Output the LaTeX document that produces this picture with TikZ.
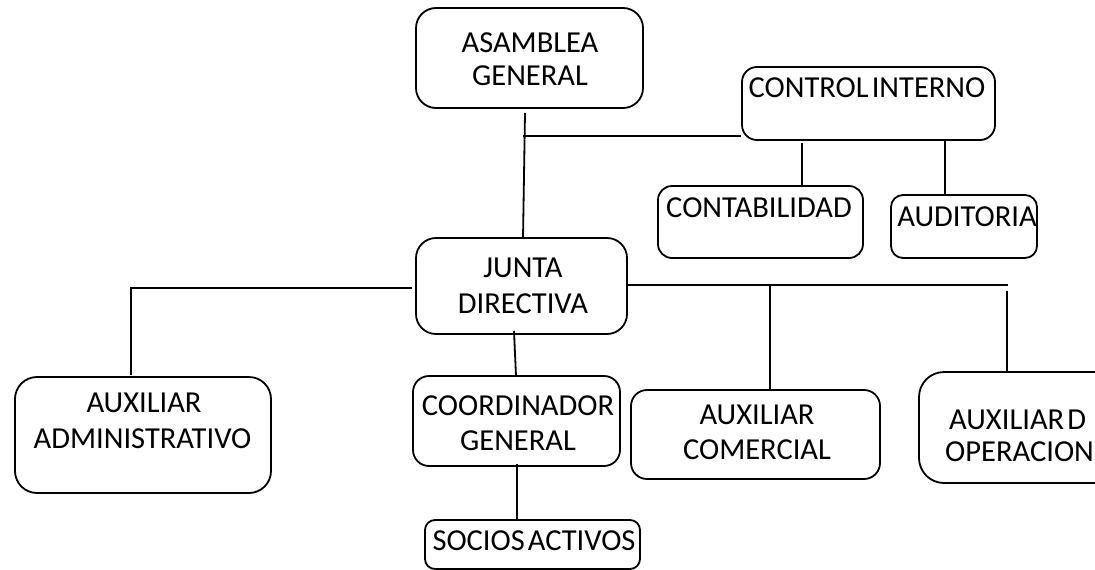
\documentclass[tikz,border=0pt]{standalone}
\usepackage{fontspec}
\setmainfont{Carlito}[WordSpace=0.45]
\begin{document}
\begin{tikzpicture}[x=1pt,y=-1pt,
  box/.style={draw=black,line width=1.8pt,rounded corners=#1,inner sep=0pt,fill=white},
  box/.default=16pt,
  txt/.style={anchor=base,inner sep=0pt,font=\fontsize{30.5}{36}\selectfont},
  txtl/.style={anchor=base west,inner sep=0pt,font=\fontsize{30.5}{36}\selectfont},
  conn/.style={draw=black,line width=1.8pt}]
\useasboundingbox (0,0) rectangle (1095,570);
\fill[white] (0,0) rectangle (1095,570);
\clip (0,0) rectangle (1095,570);
% boxes
\node[box=20pt,minimum width=227pt,minimum height=100pt] (asam) at (529.5,58) {};
\node[box=15pt,minimum width=253pt,minimum height=73pt] (ctrl) at (868.5,103.5) {};
\node[box=14pt,minimum width=205pt,minimum height=72pt] (cont) at (760.5,222) {};
\node[box=12pt,minimum width=146pt,minimum height=63pt] (audi) at (964,226.5) {};
\node[box=20pt,minimum width=211pt,minimum height=96pt] (junta) at (521.5,286) {};
\node[box=22pt,minimum width=256pt,minimum height=116pt] (admin) at (143,435) {};
\node[box=16pt,minimum width=207pt,minimum height=90pt] (coord) at (516.5,421) {};
\node[box=10pt,minimum width=215pt,minimum height=49pt] (socios) at (532.5,544.5) {};
\node[box=16pt,minimum width=249pt,minimum height=89pt] (comer) at (755.5,434.5) {};
\node[box=25pt,minimum width=220pt,minimum height=111pt] (oper) at (1029,427.5) {};
% texts
\node[txt] (tasam1) at (530,52) {ASAMBLEA};
\node[txt] (tasam2) at (530,85) {GENERAL};
\node[txt] (tctrl) at (867,97) {CONTROL INTERNO};
\node[txt] (tcont) at (759,217) {CONTABILIDAD};
\node[txt] (taudi) at (967,226) {AUDITORIA};
\node[txt] (tjun1) at (523,277) {JUNTA};
\node[txt] (tjun2) at (523,313) {DIRECTIVA};
\node[txt] (tadm1) at (144,412) {AUXILIAR};
\node[txt] (tadm2) at (142.5,448) {ADMINISTRATIVO};
\node[txt] (tcoo1) at (518,415) {COORDINADOR};
\node[txt] (tcoo2) at (518,450) {GENERAL};
\node[txt] (tsoc) at (534,550) {SOCIOS ACTIVOS};
\node[txt] (tcom1) at (757,424) {AUXILIAR};
\node[txt] (tcom2) at (757,459) {COMERCIAL};
\node[txtl] (top1) at (949,429) {AUXILIAR D};
\node[txtl] (top2) at (945,461) {OPERACION};
% connector end points
\coordinate (a1) at (525,113);
\coordinate (a2) at (523,238);
\coordinate (h1) at (523,136);
\coordinate (c1) at (802,143);
\coordinate (c2) at (945,139);
\coordinate (j1) at (412,288);
\coordinate (j2) at (131,288);
\coordinate (j3) at (131,375);
\coordinate (r1) at (1008,285);
\coordinate (r2) at (770,285);
\coordinate (r3) at (1007,291);
\coordinate (k1) at (514,331);
\coordinate (s1) at (517,464);
% connectors
\draw[conn] (a1) -- (a2);
\draw[conn] (h1) -- (h1 -| ctrl.west);
\draw[conn] (c1) -- (c1 |- cont.north);
\draw[conn] (c2) -- (c2 |- audi.north);
\draw[conn] (j1) -- (j2) -- (j3);
\draw[conn] (r1 -| junta.east) -- (r1);
\draw[conn] (r2) -- (r2 |- comer.north);
\draw[conn] (r3) -- (r3 |- oper.north);
\draw[conn] (k1) -- (516,376);
\draw[conn] (s1) -- (s1 |- socios.north);
\end{tikzpicture}
\end{document}
